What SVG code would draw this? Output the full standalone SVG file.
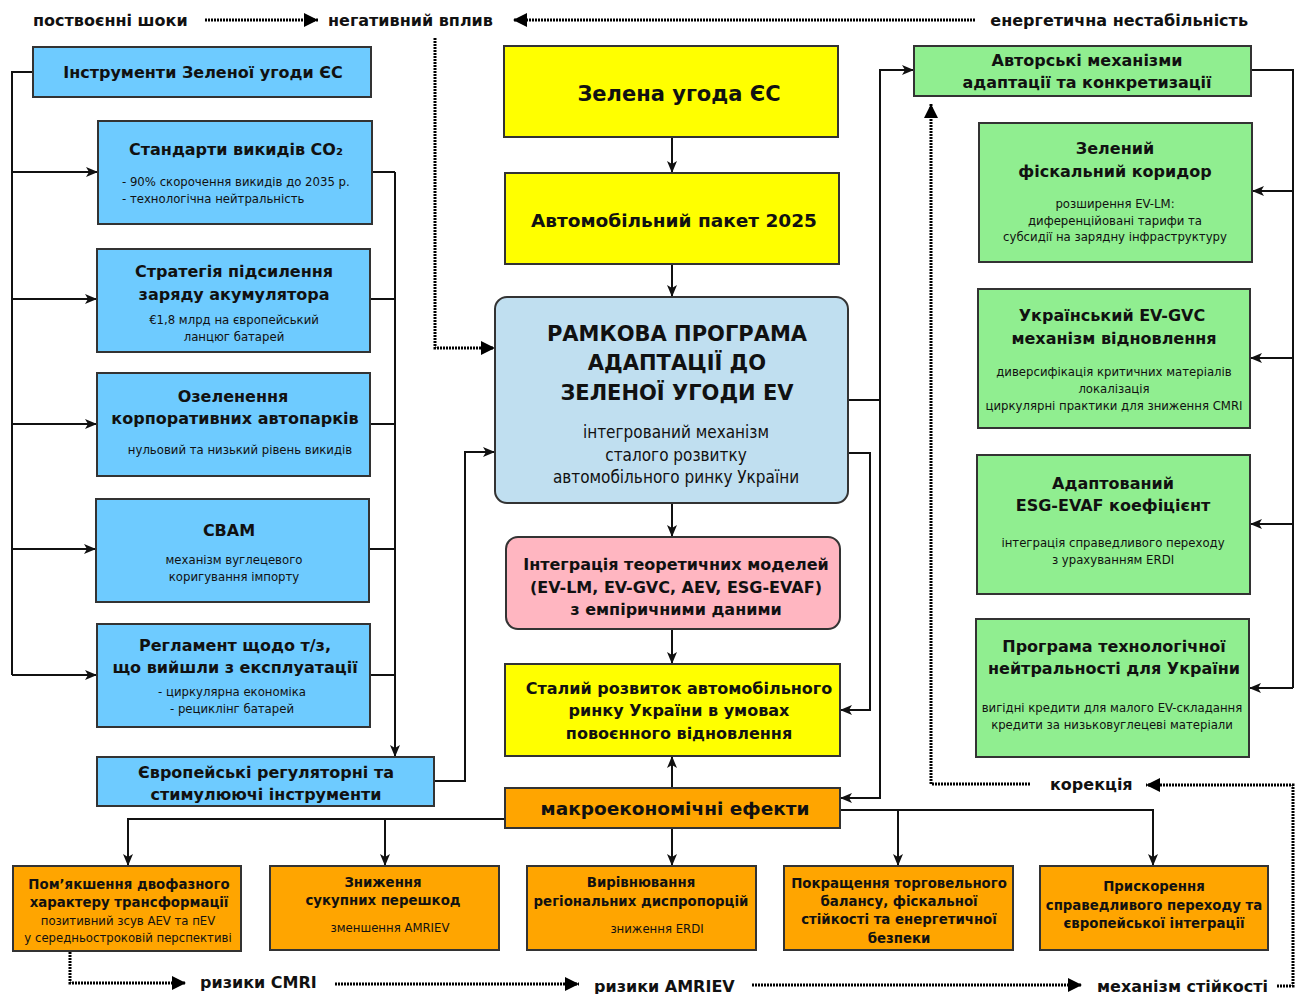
<svg xmlns="http://www.w3.org/2000/svg" width="1301" height="994" viewBox="0 0 1301 994">
  <defs>
    <style>
      text { font-family: "DejaVu Sans", sans-serif; fill: #111; }
      .b { font-weight: bold; }
      .c { text-anchor: middle; }
      .lbl { font-size: 16px; font-weight: bold; }
      .t16 { font-size: 16px; font-weight: bold; }
      .t14 { font-family: "DejaVu Sans Condensed", "DejaVu Sans", sans-serif; font-stretch: condensed; font-size: 14.8px; font-weight: bold; }
      .s12 { font-family: "DejaVu Sans Condensed", "DejaVu Sans", sans-serif; font-stretch: condensed; font-size: 13px; }
      .s16 { font-family: "DejaVu Sans Condensed", "DejaVu Sans", sans-serif; font-stretch: condensed; font-size: 17px; }
      .box { stroke: #333; stroke-width: 2; }
      .blue { fill: #6ecbff; }
      .yellow { fill: #ffff00; }
      .lblue { fill: #c0dff0; }
      .pink { fill: #ffb6c1; }
      .green { fill: #90ee90; }
      .orange { fill: #ffa500; }
      .wire { fill: none; stroke: #111; stroke-width: 2; }
      .dot { fill: none; stroke: #000; stroke-width: 3; stroke-dasharray: 2 1; }
    </style>
    <marker id="arr" viewBox="0 0 12 10" markerWidth="12" markerHeight="10" refX="12" refY="5" orient="auto" markerUnits="userSpaceOnUse">
      <path d="M0,0 L12,5 L0,10 L3,5 Z" fill="#111"/>
    </marker>
    <marker id="arrBig" viewBox="0 0 14 14" markerWidth="14" markerHeight="14" refX="14" refY="7" orient="auto" markerUnits="userSpaceOnUse">
      <path d="M0,0 L14,7 L0,14 Z" fill="#000"/>
    </marker>
  </defs>

  <!-- dotted influence lines and floating labels -->
  <g id="context">
    <text class="lbl" x="33" y="26">поствоєнні шоки</text>
    <text class="lbl" x="328" y="26">негативний вплив</text>
    <text class="lbl" x="1248" y="26" text-anchor="end">енергетична нестабільність</text>
    <text class="lbl" x="1050" y="790">корекція</text>
    <text class="lbl" x="200" y="988">ризики CMRI</text>
    <text class="lbl" x="594" y="992">ризики AMRIEV</text>
    <text class="lbl" x="1097" y="992">механізм стійкості</text>
  </g>

  <g id="connectors">
    <!-- dotted feedback paths -->
    <path class="dot" d="M205,20 H318" marker-end="url(#arrBig)"/>
    <path class="dot" d="M975,20 H513" marker-end="url(#arrBig)"/>
    <path class="dot" d="M435,38 V348 H495" marker-end="url(#arrBig)"/>
    <path class="dot" d="M70,952 V983 H186" marker-end="url(#arrBig)"/>
    <path class="dot" d="M335,984 H579" marker-end="url(#arrBig)"/>
    <path class="dot" d="M752,985 H1082" marker-end="url(#arrBig)"/>
    <path class="dot" d="M1277,986 H1293 V785 H1146" marker-end="url(#arrBig)"/>
    <path class="dot" d="M1030,784 H931 V104" marker-end="url(#arrBig)"/>

    <!-- left instrument bus -->
    <path class="wire" d="M33,72 H12 V675"/>
    <path class="wire" d="M12,172 H98" marker-end="url(#arr)"/>
    <path class="wire" d="M12,299 H97" marker-end="url(#arr)"/>
    <path class="wire" d="M12,424 H97" marker-end="url(#arr)"/>
    <path class="wire" d="M12,549 H96" marker-end="url(#arr)"/>
    <path class="wire" d="M12,675 H97" marker-end="url(#arr)"/>

    <!-- right instrument bus -->
    <path class="wire" d="M372,172 H395"/>
    <path class="wire" d="M370,299 H395"/>
    <path class="wire" d="M370,424 H395"/>
    <path class="wire" d="M369,549 H395"/>
    <path class="wire" d="M370,675 H395"/>
    <path class="wire" d="M395,172 V757" marker-end="url(#arr)"/>
    <path class="wire" d="M434,781 H465 V452 H495" marker-end="url(#arr)"/>

    <!-- central chain -->
    <path class="wire" d="M672,137 V173" marker-end="url(#arr)"/>
    <path class="wire" d="M672,264 V297" marker-end="url(#arr)"/>
    <path class="wire" d="M672,503 V537" marker-end="url(#arr)"/>
    <path class="wire" d="M672,629 V664" marker-end="url(#arr)"/>
    <path class="wire" d="M672,788 V756" marker-end="url(#arr)"/>

    <!-- from the framework to the right side -->
    <path class="wire" d="M848,400 H880 V70 H914" marker-end="url(#arr)"/>
    <path class="wire" d="M880,400 V798 H840" marker-end="url(#arr)"/>
    <path class="wire" d="M848,453 H870 V710 H840" marker-end="url(#arr)"/>

    <!-- author mechanisms bus -->
    <path class="wire" d="M1251,70 H1293 V688"/>
    <path class="wire" d="M1293,191 H1252" marker-end="url(#arr)"/>
    <path class="wire" d="M1293,358 H1250" marker-end="url(#arr)"/>
    <path class="wire" d="M1293,524 H1250" marker-end="url(#arr)"/>
    <path class="wire" d="M1293,688 H1249" marker-end="url(#arr)"/>

    <!-- macro effects fan-out -->
    <path class="wire" d="M505,819 H128 V866" marker-end="url(#arr)"/>
    <path class="wire" d="M385,819 V866" marker-end="url(#arr)"/>
    <path class="wire" d="M672,828 V866" marker-end="url(#arr)"/>
    <path class="wire" d="M840,810 H1153 V866" marker-end="url(#arr)"/>
    <path class="wire" d="M898,810 V866" marker-end="url(#arr)"/>
  </g>

  <!-- left column: EU Green Deal instruments -->
  <g id="eu-tools">
    <rect class="box blue" x="33" y="47" width="338" height="50"/>
    <text class="t16 c" x="203" y="78">Інструменти Зеленої угоди ЄС</text>
  </g>
  <g id="co2-standards">
    <rect class="box blue" x="98" y="121" width="274" height="103"/>
    <text class="t16 c" x="236" y="155">Стандарти викидів CO₂</text>
    <text class="s12" x="122" y="186">- 90% скорочення викидів до 2035 р.</text>
    <text class="s12" x="122" y="203">- технологічна нейтральність</text>
  </g>
  <g id="battery-strategy">
    <rect class="box blue" x="97" y="249" width="273" height="103"/>
    <text class="t16 c" x="234" y="277">Стратегія підсилення</text>
    <text class="t16 c" x="234" y="300">заряду акумулятора</text>
    <text class="s12 c" x="234" y="324">€1,8 млрд на європейський</text>
    <text class="s12 c" x="234" y="341">ланцюг батарей</text>
  </g>
  <g id="fleets">
    <rect class="box blue" x="97" y="373" width="273" height="103"/>
    <text class="t16 c" x="233" y="402">Озеленення</text>
    <text class="t16 c" x="235" y="424">корпоративних автопарків</text>
    <text class="s12 c" x="240" y="454">нульовий та низький рівень викидів</text>
  </g>
  <g id="cbam">
    <rect class="box blue" x="96" y="499" width="273" height="103"/>
    <text class="t16 c" x="229" y="536">CBAM</text>
    <text class="s12 c" x="234" y="564">механізм вуглецевого</text>
    <text class="s12 c" x="234" y="581">коригування імпорту</text>
  </g>
  <g id="elv-regulation">
    <rect class="box blue" x="97" y="624" width="273" height="103"/>
    <text class="t16 c" x="235" y="651">Регламент щодо т/з,</text>
    <text class="t16 c" x="235" y="673">що вийшли з експлуатації</text>
    <text class="s12 c" x="232" y="696">- циркулярна економіка</text>
    <text class="s12 c" x="232" y="713">- рециклінг батарей</text>
  </g>
  <g id="eu-regulatory">
    <rect class="box blue" x="97" y="757" width="337" height="49"/>
    <text class="t16 c" x="266" y="778">Європейські регуляторні та</text>
    <text class="t16 c" x="266" y="800">стимулюючі інструменти</text>
  </g>

  <!-- central column -->
  <g id="green-deal">
    <rect class="box yellow" x="504" y="46" width="334" height="91"/>
    <text class="c b" style="font-size:21px" x="679" y="101">Зелена угода ЄС</text>
  </g>
  <g id="auto-package">
    <rect class="box yellow" x="505" y="173" width="334" height="91"/>
    <text class="c b" style="font-size:18.5px" x="674" y="227">Автомобільний пакет 2025</text>
  </g>
  <g id="framework">
    <rect class="box lblue" x="495" y="297" width="353" height="206" rx="12"/>
    <text class="c b" style="font-size:21px" x="677" y="341">РАМКОВА ПРОГРАМА</text>
    <text class="c b" style="font-size:21px" x="677" y="370">АДАПТАЦІЇ ДО</text>
    <text class="c b" style="font-size:21px" x="677" y="400">ЗЕЛЕНОЇ УГОДИ EV</text>
    <text class="c s16" x="676" y="438">інтегрований механізм</text>
    <text class="c s16" x="676" y="461">сталого розвитку</text>
    <text class="c s16" x="676" y="483">автомобільного ринку України</text>
  </g>
  <g id="models-integration">
    <rect class="box pink" x="506" y="537" width="334" height="92" rx="12"/>
    <text class="t16 c" x="676" y="570">Інтеграція теоретичних моделей</text>
    <text class="t16 c" x="676" y="593">(EV-LM, EV-GVC, AEV, ESG-EVAF)</text>
    <text class="t16 c" x="676" y="615">з емпіричними даними</text>
  </g>
  <g id="sustainable-development">
    <rect class="box yellow" x="505" y="664" width="335" height="92"/>
    <text class="t16 c" x="679" y="694">Сталий розвиток автомобільного</text>
    <text class="t16 c" x="679" y="716">ринку України в умовах</text>
    <text class="t16 c" x="679" y="739">повоєнного відновлення</text>
  </g>
  <g id="macro-effects">
    <rect class="box orange" x="505" y="788" width="335" height="40"/>
    <text class="c b" style="font-size:18.5px" x="675" y="815">макроекономічні ефекти</text>
  </g>

  <!-- right column: author mechanisms -->
  <g id="author-mechanisms">
    <rect class="box green" x="914" y="46" width="337" height="50"/>
    <text class="t16 c" x="1087" y="66">Авторські механізми</text>
    <text class="t16 c" x="1087" y="88">адаптації та конкретизації</text>
  </g>
  <g id="fiscal-corridor">
    <rect class="box green" x="979" y="123" width="273" height="139"/>
    <text class="t16 c" x="1115" y="154">Зелений</text>
    <text class="t16 c" x="1115" y="177">фіскальний коридор</text>
    <text class="s12 c" x="1115" y="208">розширення EV-LM:</text>
    <text class="s12 c" x="1115" y="225">диференційовані тарифи та</text>
    <text class="s12 c" x="1115" y="241">субсидії на зарядну інфраструктуру</text>
  </g>
  <g id="ev-gvc">
    <rect class="box green" x="978" y="289" width="272" height="139"/>
    <text class="t16 c" x="1112" y="321">Український EV-GVC</text>
    <text class="t16 c" x="1114" y="344">механізм відновлення</text>
    <text class="s12 c" x="1114" y="376">диверсифікація критичних матеріалів</text>
    <text class="s12 c" x="1114" y="393">локалізація</text>
    <text class="s12 c" x="1114" y="410">циркулярні практики для зниження CMRI</text>
  </g>
  <g id="esg-evaf">
    <rect class="box green" x="977" y="455" width="273" height="139"/>
    <text class="t16 c" x="1113" y="489">Адаптований</text>
    <text class="t16 c" x="1113" y="511">ESG-EVAF коефіцієнт</text>
    <text class="s12 c" x="1113" y="547">інтеграція справедливого переходу</text>
    <text class="s12 c" x="1113" y="564">з урахуванням ERDI</text>
  </g>
  <g id="tech-neutrality">
    <rect class="box green" x="976" y="619" width="273" height="138"/>
    <text class="t16 c" x="1114" y="652">Програма технологічної</text>
    <text class="t16 c" x="1114" y="674">нейтральності для України</text>
    <text class="s12 c" x="1112" y="712">вигідні кредити для малого EV-складання</text>
    <text class="s12 c" x="1112" y="729">кредити за низьковуглецеві матеріали</text>
  </g>

  <!-- bottom row: macroeconomic outcomes -->
  <g id="two-phase">
    <rect class="box orange" x="13" y="866" width="228" height="85"/>
    <text class="t14 c" x="129" y="889">Пом’якшення двофазного</text>
    <text class="t14 c" x="129" y="907">характеру трансформації</text>
    <text class="s12 c" x="128" y="925">позитивний зсув AEV та пEV</text>
    <text class="s12 c" x="128" y="942">у середньостроковій перспективі</text>
  </g>
  <g id="barriers">
    <rect class="box orange" x="270" y="866" width="229" height="84"/>
    <text class="t14 c" x="383" y="887">Зниження</text>
    <text class="t14 c" x="383" y="905">сукупних перешкод</text>
    <text class="s12 c" x="390" y="932">зменшення AMRIEV</text>
  </g>
  <g id="regional">
    <rect class="box orange" x="527" y="866" width="229" height="84"/>
    <text class="t14 c" x="641" y="887">Вирівнювання</text>
    <text class="t14 c" x="641" y="906">регіональних диспропорцій</text>
    <text class="s12 c" x="657" y="933">зниження ERDI</text>
  </g>
  <g id="trade-balance">
    <rect class="box orange" x="784" y="866" width="229" height="84"/>
    <text class="t14 c" x="899" y="888">Покращення торговельного</text>
    <text class="t14 c" x="899" y="906">балансу, фіскальної</text>
    <text class="t14 c" x="899" y="924">стійкості та енергетичної</text>
    <text class="t14 c" x="899" y="943">безпеки</text>
  </g>
  <g id="just-transition">
    <rect class="box orange" x="1040" y="866" width="228" height="84"/>
    <text class="t14 c" x="1154" y="891">Прискорення</text>
    <text class="t14 c" x="1154" y="910">справедливого переходу та</text>
    <text class="t14 c" x="1154" y="928">європейської інтеграції</text>
  </g>
</svg>
